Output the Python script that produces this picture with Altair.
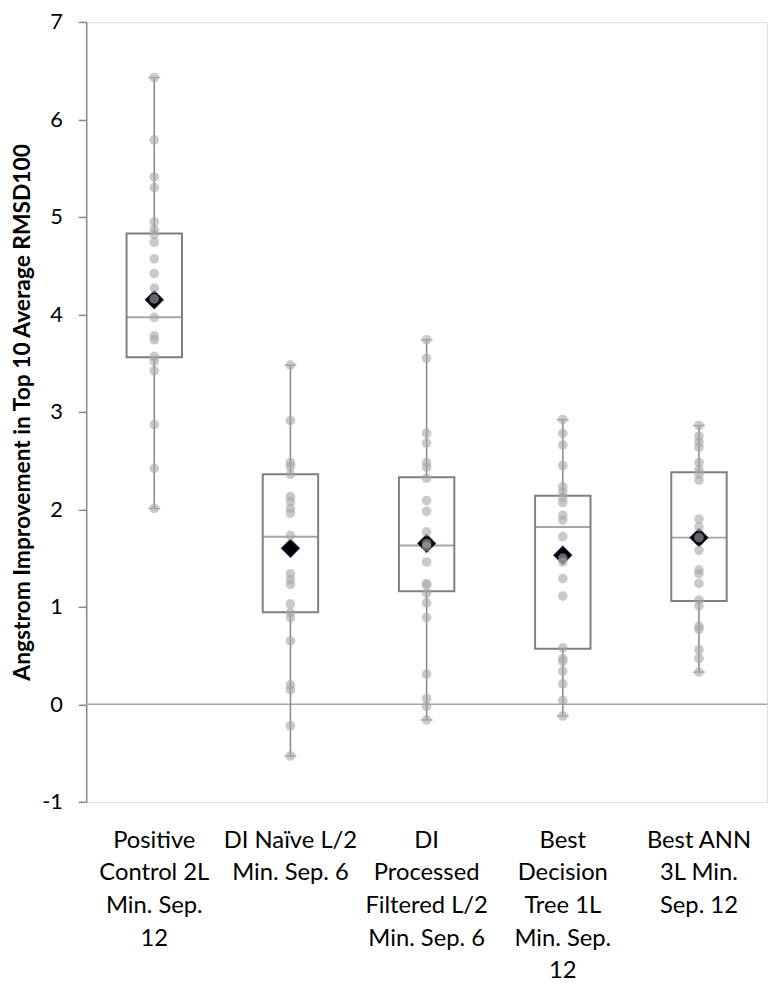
import altair as alt
import pandas as pd

categories = [
    "Positive\nControl 2L\nMin. Sep.\n12",
    "DI Naïve L/2\nMin. Sep. 6",
    "DI\nProcessed\nFiltered L/2\nMin. Sep. 6",
    "Best\nDecision\nTree 1L\nMin. Sep.\n12",
    "Best ANN\n3L Min.\nSep. 12",
]

pos_control = [6.43, 5.79, 5.41, 5.30, 4.95, 4.87, 4.82, 4.74, 4.57, 4.42, 4.27,
               4.16, 3.97, 3.78, 3.74, 3.57, 3.52, 3.42, 2.87, 2.42, 2.01]
di_naive = [3.48, 2.91, 2.48, 2.44, 2.36, 2.13, 2.08, 2.01, 1.96, 1.73, 1.34,
            1.28, 1.23, 1.03, 0.94, 0.89, 0.65, 0.20, 0.15, -0.22, -0.53]
di_processed = [3.74, 3.55, 2.78, 2.68, 2.48, 2.43, 2.32, 2.09, 1.98, 1.77, 1.65,
                1.62, 1.46, 1.24, 1.22, 1.14, 1.04, 0.89, 0.31, 0.06, -0.02, -0.16]
decision_tree = [2.92, 2.78, 2.66, 2.45, 2.23, 2.18, 2.12, 2.07, 1.94, 1.89, 1.72,
                 1.50, 1.46, 1.29, 1.11, 0.58, 0.47, 0.44, 0.34, 0.21, 0.04, -0.12]
best_ann = [2.86, 2.75, 2.69, 2.64, 2.48, 2.41, 2.36, 2.30, 1.90, 1.82, 1.71,
            1.58, 1.38, 1.34, 1.24, 1.07, 1.01, 0.80, 0.77, 0.56, 0.47, 0.33]

# box summary
stat_min = [2.01, -0.53, -0.16, -0.12, 0.33]
stat_q1 = [3.56, 0.945, 1.16, 0.57, 1.06]
stat_median = [3.97, 1.72, 1.63, 1.82, 1.71]
stat_q3 = [4.83, 2.36, 2.33, 2.14, 2.38]
stat_max = [6.43, 3.48, 3.74, 2.92, 2.86]
stat_mean = [4.15, 1.60, 1.65, 1.53, 1.71]

y_ticks = [-1, 0, 1, 2, 3, 4, 5, 6, 7]
y_title = "Angstrom Improvement in Top 10 Average RMSD100"

series = [pos_control, di_naive, di_processed, decision_tree, best_ann]
points = pd.DataFrame(
    [{"cat": c, "value": v} for c, vals in zip(categories, series) for v in vals]
)
stats = pd.DataFrame({
    "cat": categories, "min": stat_min, "q1": stat_q1, "median": stat_median,
    "q3": stat_q3, "max": stat_max, "mean": stat_mean,
})
zero = pd.DataFrame({"y": [0]})

FONT = "Lato"
GRAY = "#868686"

x_enc = alt.X(
    "cat:N",
    sort=categories,
    scale=alt.Scale(paddingInner=0, paddingOuter=0),
    axis=alt.Axis(
        title=None, labelAngle=0, domain=False, ticks=False, tickSize=0,
        labelPadding=27, labelFontSize=24, labelLineHeight=33, labelLimit=0,
        labelColor="#000000", labelFont=FONT,
        labelExpr="split(datum.label, '\\n')",
    ),
)
y_scale = alt.Scale(domain=[-1, 7], nice=False, zero=False)
y_axis = alt.Axis(
    values=y_ticks, labelExpr="'' + datum.value", grid=False,
    domainColor=GRAY, tickColor=GRAY,
    tickSize=8, domainWidth=1.5, tickWidth=1.5, labelPadding=16,
    labelFontSize=22, labelFont=FONT, labelColor="#000000", title=y_title,
    titleFont=FONT, titleFontSize=23, titleFontWeight="bold",
    titleColor="#000000", titleX=-57, titleAngle=270, titleAlign="center",
    titleBaseline="alphabetic",
)

base_stats = alt.Chart(stats)

zero_rule = alt.Chart(zero).mark_rule(color="#a6a6a6", strokeWidth=1.5).encode(
    y=alt.Y("y:Q", scale=y_scale, axis=y_axis)
)
whisker = base_stats.mark_rule(color=GRAY, strokeWidth=1.5).encode(
    x=x_enc, y=alt.Y("min:Q", scale=y_scale, axis=y_axis), y2="max:Q"
)
cap_lo = base_stats.mark_tick(color=GRAY, size=12, thickness=1.5).encode(
    x=x_enc, y=alt.Y("min:Q", scale=y_scale)
)
cap_hi = base_stats.mark_tick(color=GRAY, size=12, thickness=1.5).encode(
    x=x_enc, y=alt.Y("max:Q", scale=y_scale)
)
box = base_stats.mark_bar(size=56, fill="white", stroke="#7f7f7f", strokeWidth=2).encode(
    x=x_enc, y=alt.Y("q1:Q", scale=y_scale), y2="q3:Q"
)
median = base_stats.mark_tick(color="#7f7f7f", size=56, thickness=2).encode(
    x=x_enc, y=alt.Y("median:Q", scale=y_scale)
)
mean = base_stats.mark_point(
    shape="diamond", filled=True, fill="#000000", stroke="#2f5597",
    strokeWidth=0.8, size=360, opacity=1,
).encode(x=x_enc, y=alt.Y("mean:Q", scale=y_scale))
dots = alt.Chart(points).mark_circle(size=95, color="#a6a6a6", opacity=0.6).encode(
    x=x_enc, y=alt.Y("value:Q", scale=y_scale)
)

chart = alt.layer(zero_rule, whisker, cap_lo, cap_hi, box, median, mean, dots).properties(
    width=688, height=788,
    autosize=alt.AutoSizeParams(type="none"),
    padding={"left": 79, "top": 9, "right": 5, "bottom": 180},
).configure_view(stroke=None).configure(background="white")

chart.save("out.html", embed_options={"renderer": "svg", "actions": False})
